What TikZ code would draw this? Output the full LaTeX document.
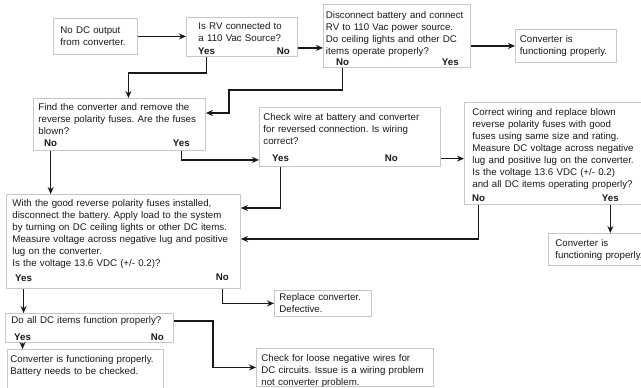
\documentclass[tikz,border=0pt]{standalone}
\usepackage{fontspec}
\setmainfont{Liberation Sans}
\usetikzlibrary{arrows.meta,calc}

\begin{document}
\frenchspacing
\hyphenpenalty=10000
\begin{tikzpicture}[x=1pt,y=-1pt,
  font=\fontsize{9.7}{12}\selectfont,
  box/.style={draw=black!22,line width=0.9pt,fill=white,anchor=north west,align=left,inner ysep=0pt,text=black!90},
  ans/.style={font=\fontsize{9.7}{12}\selectfont\bfseries,inner sep=0pt,text=black!90},
  flow/.style={line width=1.3pt,black!90,-{Stealth[length=7pt,width=6pt]}}]
  \useasboundingbox (0,0) rectangle (641,388);
  \clip (0,0) rectangle (641,388);

  % top row
  \node[box,text width=70pt,inner xsep=7pt,text height=15.5pt,text depth=20.5pt] (start) at (53,18) {No DC output\\from converter.};
  \node[box,text width=87pt,inner xsep=12pt,text height=12.5pt,text depth=26.5pt] (q1) at (186,17) {Is RV connected to\\a 110 Vac Source?};
  \node[ans,anchor=base west] (q1yes) at ($(q1.south west)+(12,-2.5)$) {Yes};
  \node[ans,anchor=base east] (q1no) at ($(q1.south east)+(-8,-2.5)$) {No};
  \node[box,text width=142pt,inner xsep=2.5pt,text height=14.5pt,text depth=48.5pt] (q2) at (323,4) {Disconnect battery and connect\\RV to 110 Vac power source.\\Do ceiling lights and other DC\\items operate properly?};
  \node[ans,anchor=base west] (q2no) at ($(q2.south west)+(13,-2)$) {No};
  \node[ans,anchor=base east] (q2yes) at ($(q2.south east)+(-12,-2)$) {Yes};
  \node[box,text width=92pt,inner xsep=4.5pt,text height=13.5pt,text depth=19.5pt] (end1) at (515,29) {Converter is\\functioning properly.};

  % middle row
  \node[box,text width=162pt,inner xsep=5pt,text height=12.5pt,text depth=39.5pt] (q3) at (33,98) {Find the converter and remove the\\reverse polarity fuses. Are the fuses\\blown?};
  \node[ans,anchor=base west] (q3no) at ($(q3.south west)+(11,-4)$) {No};
  \node[ans,anchor=base east] (q3yes) at ($(q3.south east)+(-16,-4)$) {Yes};
  \node[box,text width=173pt,inner xsep=4pt,text height=13.5pt,text depth=45.5pt] (q4) at (259,107) {Check wire at battery and converter\\for reversed connection. Is wiring\\correct?};
  \node[ans,anchor=base west] (q4yes) at ($(q4.south west)+(13,-5)$) {Yes};
  \node[ans,anchor=base east] (q4no) at ($(q4.south east)+(-43,-5)$) {No};
  \node[box,text width=168pt,inner xsep=8pt,text height=13.5pt,text depth=88.5pt] (q5) at (464,102) {Correct wiring and replace blown\\reverse polarity fuses with good\\fuses using same size and rating.\\Measure DC voltage across negative\\lug and positive lug on the converter.\\Is the voltage 13.6 VDC (+/- 0.2)\\and all DC items operating properly?};
  \node[ans,anchor=base west] (q5no) at ($(q5.south west)+(8,-3.5)$) {No};
  \node[ans,anchor=base east] (q5yes) at ($(q5.south east)+(-30,-3.5)$) {Yes};
  \node[box,text width=95pt,inner xsep=7pt,text height=13.5pt,text depth=18.5pt] (end2) at (548,233) {Converter is\\functioning properly.};

  % lower part
  \node[box,text width=222pt,inner xsep=6pt,text height=12.5pt,text depth=81.5pt] (q6) at (6,194) {With the good reverse polarity fuses installed,\\disconnect the battery. Apply load to the system\\by turning on DC ceiling lights or other DC items.\\Measure voltage across negative lug and positive\\lug on the converter.\\Is the voltage 13.6 VDC (+/- 0.2)?};
  \node[ans,anchor=base west] (q6yes) at ($(q6.south west)+(9,-7)$) {Yes};
  \node[ans,anchor=base east] (q6no) at ($(q6.south east)+(-12,-8.5)$) {No};
  \node[box,text width=87pt,inner xsep=5pt,text height=10.5pt,text depth=15.5pt] (end3) at (274,290) {Replace converter.\\Defective.};
  \node[box,text width=156pt,inner xsep=6pt,text height=10pt,text depth=19pt] (q7) at (5,313) {Do all DC items function properly?};
  \node[ans,anchor=base west] (q7yes) at ($(q7.south west)+(9,-2)$) {Yes};
  \node[ans,anchor=base east] (q7no) at ($(q7.south east)+(-10,-2)$) {No};
  \node[box,text width=150pt,inner xsep=3pt,text height=13pt,text depth=40pt] (end4) at (7,349) {Converter is functioning properly.\\Battery needs to be checked.};
  \node[box,text width=167pt,inner xsep=5pt,text height=13.5pt,text depth=24.5pt] (end5) at (256,348) {Check for loose negative wires for\\DC circuits. Issue is a wiring problem\\not converter problem.};

  % connectors
  \draw[flow] (start.east) -- (start.east -| q1.west);
  \draw[flow] ($(q1.south east)+(0,-9)$) -- ($(q2.south west)+(0,-20)$);
  \draw[flow] (q2.east |- end1.west) -- (end1.west);
  \draw[flow] (q1yes |- q1.south) -- ++(0,16) -| ($(q3.north)+(9,0)$);
  \draw[flow] (q2no |- q2.south) -- ++(0,22) -| ($(q3.north east)+(23,15)$) -- ($(q3.north east)+(0,15)$);
  \draw[flow] (q3yes |- q3.south) |- ($(q4.south west)+(0,-7)$);
  \draw[flow] (q3no |- q3.south) -- (q3no |- q6.north);
  \draw[flow] (q4no -| q4.east) -- (q4no -| q5.west);
  \draw[flow] (q4yes |- q4.south) |- ($(q6.north east)+(0,14)$);
  \draw[flow] (q5no |- q5.south) |- ($(q6.north east)+(0,45)$);
  \draw[flow] (q5yes |- q5.south) -- (q5yes |- end2.north);
  \draw[flow] (q6no |- q6.south) |- (end3.west);
  \draw[flow] (q6yes |- q6.south) -- (q6yes |- q7.north);
  \draw[flow] (q7yes |- q7.south) -- (q7yes |- end4.north);
  \draw[flow] ($(q7.north east)+(0,8)$) -- ++(39,0) |- (end5.west);
\end{tikzpicture}
\end{document}
